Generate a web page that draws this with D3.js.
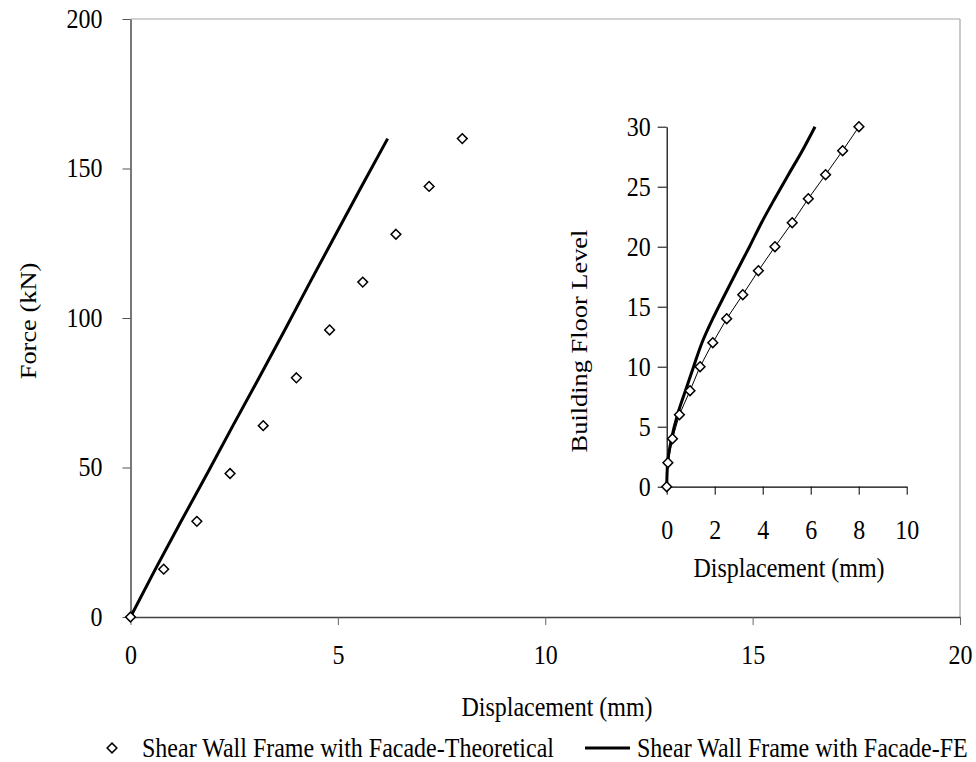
<!DOCTYPE html>
<html>
<head>
<meta charset="utf-8">
<script src="https://cdn.jsdelivr.net/npm/d3@7"></script>
<style>
  html, body { margin: 0; padding: 0; background: #fff; }
  text { font-family: "Liberation Serif", "Times New Roman", serif; fill: #000; }
</style>
</head>
<body>
<svg id="chart" width="976" height="762"></svg>
<script>
// ---------- data ----------
// Main chart: Force (kN) vs Displacement (mm)
const mainForce        = [0, 16, 32, 48, 64, 80, 96, 112, 128, 144, 160];
const mainTheoDisp     = [0, 0.8, 1.6, 2.4, 3.2, 4.0, 4.8, 5.6, 6.4, 7.2, 8.0];
const mainFEDisp       = [0, 0.6, 1.22, 1.85, 2.47, 3.1, 3.72, 4.33, 4.95, 5.57, 6.2];
const mainXTicks       = [0, 5, 10, 15, 20];
const mainYTicks       = [0, 50, 100, 150, 200];

// Inset: Building Floor Level vs Displacement (mm)
const insetFloors      = [0, 2, 4, 6, 8, 10, 12, 14, 16, 18, 20, 22, 24, 26, 28, 30];
const insetTheoDisp    = [0, 0.05, 0.24, 0.53, 0.97, 1.39, 1.92, 2.5, 3.17, 3.82, 4.51, 5.23, 5.9, 6.62, 7.33, 8.01];
const insetFEDisp      = [0, 0.04, 0.2, 0.45, 0.78, 1.12, 1.47, 1.92, 2.42, 2.93, 3.45, 3.95, 4.5, 5.07, 5.65, 6.18];
const insetXTicks      = [0, 2, 4, 6, 8, 10];
const insetYTicks      = [0, 5, 10, 15, 20, 25, 30];

const seriesNames = ["Shear Wall Frame with Facade-Theoretical", "Shear Wall Frame with Facade-FE"];

// ---------- drawing ----------
const svg = d3.select("#chart");
const FS = 24;
const SY = 1.1; // the original figure is slightly stretched vertically

function diamond(sel, r) {
  return sel.attr("d", d3.symbol().type(d3.symbolDiamond2).size(r * r * 2));
}

// Main scales
const x = d3.scaleLinear().domain([0, 20]).range([130.5, 960]);
const y = d3.scaleLinear().domain([0, 200]).range([617, 19]);

// plot border (top and right, gray)
svg.append("line").attr("x1", x(0)).attr("x2", x(20)).attr("y1", y(200)).attr("y2", y(200))
  .attr("stroke", "#a6a6a6").attr("stroke-width", 1.2);
svg.append("line").attr("x1", x(20)).attr("x2", x(20)).attr("y1", y(200)).attr("y2", y(0))
  .attr("stroke", "#a6a6a6").attr("stroke-width", 1.2);

// main x axis
const gx = svg.append("g").attr("transform", `translate(0,${y(0)})`)
  .call(d3.axisBottom(x).tickValues(mainXTicks).tickSize(8).tickSizeOuter(0).tickFormat(d3.format("d")));
gx.select(".domain").attr("stroke", "#404040").attr("stroke-width", 1.3);
gx.selectAll(".tick line").attr("stroke", "#666");
gx.selectAll(".tick text").attr("font-size", FS).attr("font-family", "Liberation Serif")
  .attr("y", 0).attr("dy", "0").attr("transform", `translate(0,47) scale(1,${SY})`);

// main y axis
const gy = svg.append("g").attr("transform", `translate(${x(0)},0)`)
  .call(d3.axisLeft(y).tickValues(mainYTicks).tickSize(8).tickSizeOuter(0).tickFormat(d3.format("d")));
gy.select(".domain").attr("stroke", "#303030").attr("stroke-width", 1.3);
gy.selectAll(".tick line").attr("stroke", "#555");
gy.selectAll(".tick text").attr("font-size", FS).attr("font-family", "Liberation Serif")
  .attr("x", -28).attr("dy", "0.32em").attr("transform", `scale(1,${SY})`)
  .each(function() { /* keep vertical centre on tick after stretch */ 
    d3.select(this).attr("transform", `scale(1,${SY})`).attr("y", 0);
  });

// axis titles
svg.append("text").attr("transform", `translate(557,707) scale(1,${SY})`).attr("dy", "0.34em")
  .attr("text-anchor", "middle").attr("font-size", FS).text("Displacement (mm)");
svg.append("text").attr("transform", `translate(28,321) scale(1,${SY}) rotate(-90)`).attr("dy", "0.34em")
  .attr("text-anchor", "middle").attr("font-size", FS).text("Force (kN)");

// main FE line
const mainFEData = mainForce.map((f, i) => [mainFEDisp[i], f]);
svg.append("path").datum(mainFEData)
  .attr("fill", "none").attr("stroke", "#000").attr("stroke-width", 3).attr("stroke-linejoin", "round")
  .attr("d", d3.line().x(d => x(d[0])).y(d => y(d[1])));

// main theoretical markers
const mainTheoData = mainForce.map((f, i) => [mainTheoDisp[i], f]);
svg.append("g").selectAll("path").data(mainTheoData).join("path")
  .call(diamond, 5.5)
  .attr("transform", d => `translate(${x(d[0])},${y(d[1])})`)
  .attr("fill", "#fff").attr("stroke", "#000").attr("stroke-width", 1.5);

// ---------- inset ----------
const ix = d3.scaleLinear().domain([0, 10]).range([666.7, 906.7]);
const iy = d3.scaleLinear().domain([0, 30]).range([486.7, 126.7]);

const igx = svg.append("g").attr("transform", `translate(0,${iy(0)})`)
  .call(d3.axisBottom(ix).tickValues(insetXTicks).tickSize(8).tickSizeOuter(0).tickFormat(d3.format("d")));
igx.select(".domain").attr("stroke", "#000").attr("stroke-width", 1.2);
igx.selectAll(".tick line").attr("stroke", "#000");
igx.selectAll(".tick text").attr("font-size", FS).attr("font-family", "Liberation Serif")
  .attr("y", 0).attr("dy", "0").attr("transform", `translate(0,52) scale(1,${SY})`);

const igy = svg.append("g").attr("transform", `translate(${ix(0)},0)`)
  .call(d3.axisLeft(iy).tickValues(insetYTicks).tickSize(9).tickSizeOuter(0).tickFormat(d3.format("d")));
igy.select(".domain").attr("stroke", "#000").attr("stroke-width", 1.2);
igy.selectAll(".tick line").attr("stroke", "#000");
igy.selectAll(".tick text").attr("font-size", FS).attr("font-family", "Liberation Serif")
  .attr("x", -16).attr("y", 0).attr("dy", "0.32em").attr("transform", `scale(1,${SY})`);

svg.append("text").attr("transform", `translate(789,568) scale(1,${SY})`).attr("dy", "0.34em")
  .attr("text-anchor", "middle").attr("font-size", FS).text("Displacement (mm)");
svg.append("text").attr("transform", `translate(579,341) scale(1,${SY}) rotate(-90)`).attr("dy", "0.34em")
  .attr("text-anchor", "middle").attr("font-size", FS).text("Building Floor Level");

// inset FE line
const insetFEData = insetFloors.map((f, i) => [insetFEDisp[i], f]);
svg.append("path").datum(insetFEData)
  .attr("fill", "none").attr("stroke", "#000").attr("stroke-width", 3).attr("stroke-linejoin", "round")
  .attr("d", d3.line().curve(d3.curveMonotoneY).x(d => ix(d[0])).y(d => iy(d[1])));

// inset theoretical line + markers
const insetTheoData = insetFloors.map((f, i) => [insetTheoDisp[i], f]);
svg.append("path").datum(insetTheoData)
  .attr("fill", "none").attr("stroke", "#000").attr("stroke-width", 1)
  .attr("d", d3.line().x(d => ix(d[0])).y(d => iy(d[1])));
svg.append("g").selectAll("path").data(insetTheoData).join("path")
  .call(diamond, 5.5)
  .attr("transform", d => `translate(${ix(d[0])},${iy(d[1])})`)
  .attr("fill", "#fff").attr("stroke", "#000").attr("stroke-width", 1.5);

// ---------- legend ----------
const lg = svg.append("g");
const legY = 748;
lg.append("path").call(diamond, 5.5).attr("transform", `translate(112,${legY})`)
  .attr("fill", "#fff").attr("stroke", "#000").attr("stroke-width", 1.5);
lg.append("text").attr("transform", `translate(142,${legY}) scale(1,${SY})`).attr("dy", "0.34em")
  .attr("font-size", FS).text(seriesNames[0]);
lg.append("line").attr("x1", 585).attr("x2", 630).attr("y1", legY).attr("y2", legY)
  .attr("stroke", "#000").attr("stroke-width", 3);
lg.append("text").attr("transform", `translate(637,${legY}) scale(1,${SY})`).attr("dy", "0.34em")
  .attr("font-size", FS).text(seriesNames[1]);
</script>
</body>
</html>
